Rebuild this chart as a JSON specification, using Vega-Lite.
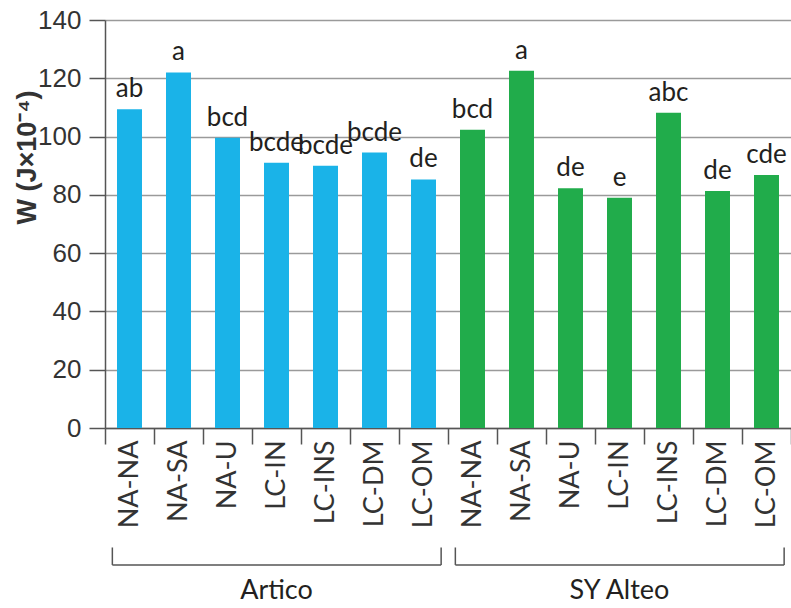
{
  "$schema": "https://vega.github.io/schema/vega-lite/v6.json",
  "width": 686,
  "height": 408,
  "autosize": "none",
  "padding": {"left": 105, "top": 20, "right": 0, "bottom": 180},
  "background": "white",
  "config": {"view": {"stroke": null}, "font": "Lato"},
  "datasets": {
    "bars": [
      {"key": "Artico|NA-NA", "group": "Artico", "W": 109.4, "letters": "ab"},
      {"key": "Artico|NA-SA", "group": "Artico", "W": 122.0, "letters": "a"},
      {"key": "Artico|NA-U", "group": "Artico", "W": 99.6, "letters": "bcd"},
      {"key": "Artico|LC-IN", "group": "Artico", "W": 91.0, "letters": "bcde"},
      {"key": "Artico|LC-INS", "group": "Artico", "W": 90.0, "letters": "bcde"},
      {"key": "Artico|LC-DM", "group": "Artico", "W": 94.5, "letters": "bcde"},
      {"key": "Artico|LC-OM", "group": "Artico", "W": 85.3, "letters": "de"},
      {"key": "SY Alteo|NA-NA", "group": "SY Alteo", "W": 102.3, "letters": "bcd"},
      {"key": "SY Alteo|NA-SA", "group": "SY Alteo", "W": 122.6, "letters": "a"},
      {"key": "SY Alteo|NA-U", "group": "SY Alteo", "W": 82.3, "letters": "de"},
      {"key": "SY Alteo|LC-IN", "group": "SY Alteo", "W": 79.0, "letters": "e"},
      {"key": "SY Alteo|LC-INS", "group": "SY Alteo", "W": 108.2, "letters": "abc"},
      {"key": "SY Alteo|LC-DM", "group": "SY Alteo", "W": 81.3, "letters": "de"},
      {"key": "SY Alteo|LC-OM", "group": "SY Alteo", "W": 86.8, "letters": "cde"}
    ],
    "groups": [
      {"group": "Artico", "first": "Artico|NA-NA", "last": "Artico|LC-OM", "mid": "Artico|LC-IN"},
      {"group": "SY Alteo", "first": "SY Alteo|NA-NA", "last": "SY Alteo|LC-OM", "mid": "SY Alteo|LC-IN"}
    ]
  },
  "layer": [
    {
      "data": {"name": "bars"},
      "mark": {"type": "bar", "width": {"band": 0.51}},
      "encoding": {
        "x": {
          "field": "key",
          "type": "nominal",
          "scale": {
            "domain": ["Artico|NA-NA", "Artico|NA-SA", "Artico|NA-U", "Artico|LC-IN", "Artico|LC-INS", "Artico|LC-DM", "Artico|LC-OM",
                       "SY Alteo|NA-NA", "SY Alteo|NA-SA", "SY Alteo|NA-U", "SY Alteo|LC-IN", "SY Alteo|LC-INS", "SY Alteo|LC-DM", "SY Alteo|LC-OM"],
            "paddingInner": 0,
            "paddingOuter": 0
          },
          "axis": {
            "title": null,
            "labelExpr": "split(datum.value, '|')[1]",
            "labelAngle": -90,
            "labelAlign": "right",
            "labelBaseline": "middle",
            "labelFontSize": 27,
            "labelFont": "Lato",
            "labelColor": "#333333",
            "labelPadding": -4,
            "tickBand": "extent",
            "tickSize": 16,
            "tickColor": "#555555",
            "tickWidth": 1.5,
            "domainColor": "#555555",
            "domainWidth": 1.5,
            "grid": false
          }
        },
        "y": {
          "field": "W",
          "type": "quantitative",
          "scale": {"domain": [0, 140], "nice": false},
          "axis": {
            "title": "W (J×10⁻⁴)",
            "values": [0, 20, 40, 60, 80, 100, 120, 140],
            "labelFontSize": 26,
            "labelFont": "Liberation Sans",
            "labelColor": "#333333",
            "labelPadding": 8,
            "tickSize": 16,
            "tickColor": "#555555",
            "tickWidth": 1.5,
            "domainColor": "#555555",
            "domainWidth": 1.5,
            "gridColor": "#9a9a9a",
            "gridWidth": 1.5,
            "titleFont": "Liberation Sans",
            "titleFontSize": 27,
            "titleFontWeight": "bold",
            "titleColor": "#333333",
            "titleX": -78,
            "titleY": 137,
            "titleAlign": "center",
            "titleBaseline": "middle"
          }
        },
        "color": {
          "field": "group",
          "type": "nominal",
          "scale": {"domain": ["Artico", "SY Alteo"], "range": ["#1AB3E8", "#21AC4B"]},
          "legend": null
        }
      }
    },
    {
      "data": {"name": "bars"},
      "mark": {"type": "text", "baseline": "alphabetic", "dy": -12, "fontSize": 26, "color": "#231f20", "font": "Lato"},
      "encoding": {
        "x": {"field": "key", "type": "nominal"},
        "y": {"field": "W", "type": "quantitative"},
        "text": {"field": "letters"}
      }
    },
    {
      "data": {"name": "groups"},
      "mark": {"type": "rule", "color": "#555555", "strokeWidth": 1.5},
      "encoding": {
        "x": {"field": "first", "type": "nominal", "bandPosition": 0.15},
        "x2": {"field": "last", "bandPosition": 0.86},
        "y": {"datum": -47, "type": "quantitative"}
      }
    },
    {
      "data": {"name": "groups"},
      "mark": {"type": "rule", "color": "#555555", "strokeWidth": 1.5},
      "encoding": {
        "x": {"field": "first", "type": "nominal", "bandPosition": 0.15},
        "y": {"datum": -41, "type": "quantitative"},
        "y2": {"datum": -47}
      }
    },
    {
      "data": {"name": "groups"},
      "mark": {"type": "rule", "color": "#555555", "strokeWidth": 1.5},
      "encoding": {
        "x": {"field": "last", "type": "nominal", "bandPosition": 0.86},
        "y": {"datum": -41, "type": "quantitative"},
        "y2": {"datum": -47}
      }
    },
    {
      "data": {"name": "groups"},
      "mark": {"type": "text", "baseline": "middle", "fontSize": 27, "color": "#231f20", "font": "Lato"},
      "encoding": {
        "x": {"field": "mid", "type": "nominal"},
        "y": {"datum": -56, "type": "quantitative"},
        "text": {"field": "group"}
      }
    }
  ]
}
